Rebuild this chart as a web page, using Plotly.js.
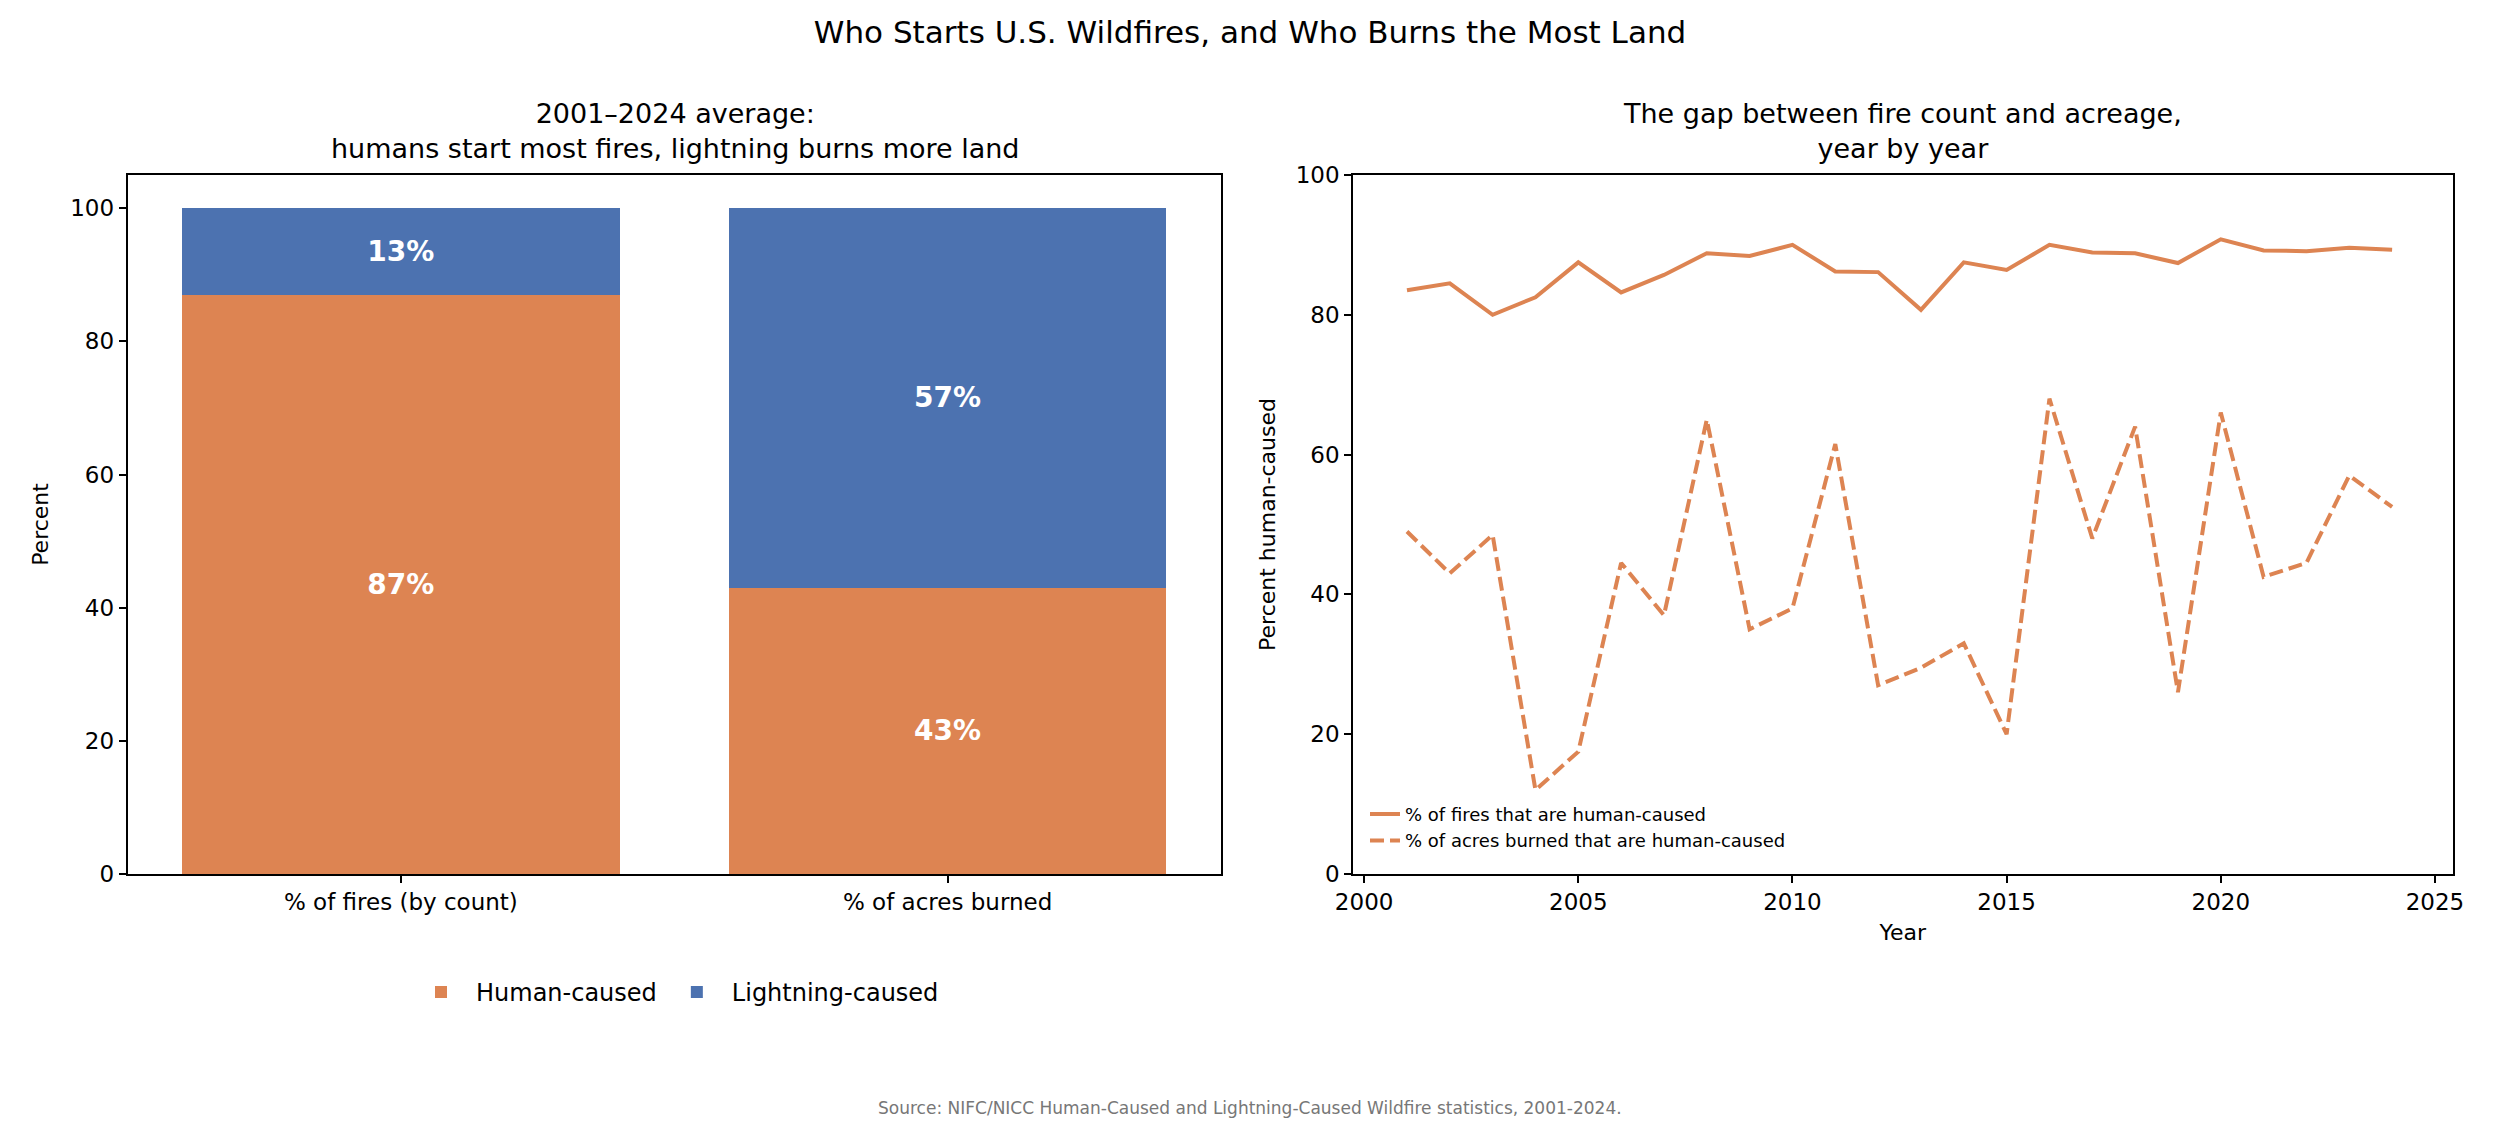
<!DOCTYPE html>
<html>
<head>
<script src="https://cdn.plot.ly/plotly-3.0.1.min.js"></script>
<style>body{margin:0;background:#fff}#chart{width:2500px;height:1142px}</style>
</head>
<body>
<div id="chart"></div>
<script>
const categories = ['% of fires (by count)', '% of acres burned'];
const humanShare = [87, 43];
const lightningShare = [13, 57];

const years = [2001, 2002, 2003, 2004, 2005, 2006, 2007, 2008, 2009, 2010, 2011, 2012,
  2013, 2014, 2015, 2016, 2017, 2018, 2019, 2020, 2021, 2022, 2023, 2024];
const firesHuman = [83.5, 84.5, 80, 82.5, 87.5, 83.2, 85.7, 88.8, 88.4, 90, 86.2, 86.1,
  80.7, 87.5, 86.4, 90, 88.9, 88.8, 87.4, 90.8, 89.2, 89.1, 89.6, 89.3];
const acresHuman = [49, 43, 48.5, 12, 17.5, 44.5, 37, 65, 35, 38, 61.5, 27,
  29.5, 33, 20, 68, 48, 64, 26, 66, 42.5, 44.5, 57, 52.5];

const orange = '#dd8452';
const blue = '#4c72b0';
const font = { family: 'DejaVu Sans', color: 'black' };
const barText = { color: 'white', size: 28, family: 'DejaVu Sans', weight: 'bold' };

const traces = [
  {
    type: 'bar', x: categories, y: humanShare, name: 'Human-caused',
    marker: { color: orange }, width: 0.8,
    text: humanShare.map((v) => v + '%'), textposition: 'inside', insidetextanchor: 'middle',
    textfont: barText, xaxis: 'x', yaxis: 'y', legend: 'legend',
  },
  {
    type: 'bar', x: categories, y: lightningShare, name: 'Lightning-caused',
    marker: { color: blue }, width: 0.8,
    text: lightningShare.map((v) => v + '%'), textposition: 'inside', insidetextanchor: 'middle',
    textfont: barText, xaxis: 'x', yaxis: 'y', legend: 'legend',
  },
  {
    type: 'scatter', mode: 'lines', x: years, y: firesHuman,
    name: '% of fires that are human-caused',
    line: { color: orange, width: 4 }, xaxis: 'x2', yaxis: 'y2', legend: 'legend2',
  },
  {
    type: 'scatter', mode: 'lines', x: years, y: acresHuman,
    name: '% of acres burned that are human-caused',
    line: { color: orange, width: 4, dash: '14px,6px' }, xaxis: 'x2', yaxis: 'y2', legend: 'legend2',
  },
];

const axisStyle = {
  showline: true, mirror: true, linecolor: 'black', linewidth: 1.5,
  ticks: 'outside', ticklen: 7, tickwidth: 1.5, tickcolor: 'black',
  showgrid: false, zeroline: false, tickfont: { size: 23 },
};

const layout = {
  width: 2500, height: 1142,
  paper_bgcolor: 'white', plot_bgcolor: 'white',
  font: font,
  margin: { l: 0, r: 0, t: 0, b: 0 },
  barmode: 'stack',
  showlegend: true,
  title: { text: 'Who Starts U.S. Wildfires, and Who Burns the Most Land', font: { size: 31 }, x: 0.5, y: 0.972, yanchor: 'middle' },
  xaxis: Object.assign({}, axisStyle, { domain: [0.051, 0.4884], range: [-0.5, 1.5], anchor: 'y' }),
  yaxis: Object.assign({}, axisStyle, { domain: [0.2347, 0.8468], range: [0, 105], dtick: 20, anchor: 'x',
    title: { text: 'Percent', font: { size: 22 }, standoff: 16 } }),
  xaxis2: Object.assign({}, axisStyle, { domain: [0.5412, 0.981], range: [1999.74, 2025.41], dtick: 5, anchor: 'y2',
    title: { text: 'Year', font: { size: 22 }, standoff: 10 } }),
  yaxis2: Object.assign({}, axisStyle, { domain: [0.2347, 0.8468], range: [0, 100], dtick: 20, anchor: 'x2',
    title: { text: 'Percent human-caused', font: { size: 22 }, standoff: 14 } }),
  legend: {
    orientation: 'h', x: 0.27, xanchor: 'center', y: 0.131, yanchor: 'middle',
    font: { size: 24 }, bgcolor: 'rgba(0,0,0,0)', traceorder: 'normal', itemwidth: 60,
  },
  legend2: {
    x: 0.546, xanchor: 'left', y: 0.248, yanchor: 'bottom',
    font: { size: 18 }, bgcolor: 'rgba(0,0,0,0)',
  },
  annotations: [
    { text: '2001–2024 average:<br>humans start most fires, lightning burns more land', xref: 'paper', yref: 'paper',
      x: 0.27, xanchor: 'center', y: 0.855, yanchor: 'bottom', showarrow: false, font: { size: 27 } },
    { text: 'The gap between fire count and acreage,<br>year by year', xref: 'paper', yref: 'paper',
      x: 0.761, xanchor: 'center', y: 0.855, yanchor: 'bottom', showarrow: false, font: { size: 27 } },
    { text: 'Source: NIFC/NICC Human-Caused and Lightning-Caused Wildfire statistics, 2001-2024.', xref: 'paper', yref: 'paper',
      x: 0.5, xanchor: 'center', y: 0.03, yanchor: 'middle', showarrow: false, font: { size: 17, color: '#777' } },
  ],
};

Plotly.newPlot('chart', traces, layout, { displayModeBar: false });
</script>
</body>
</html>
